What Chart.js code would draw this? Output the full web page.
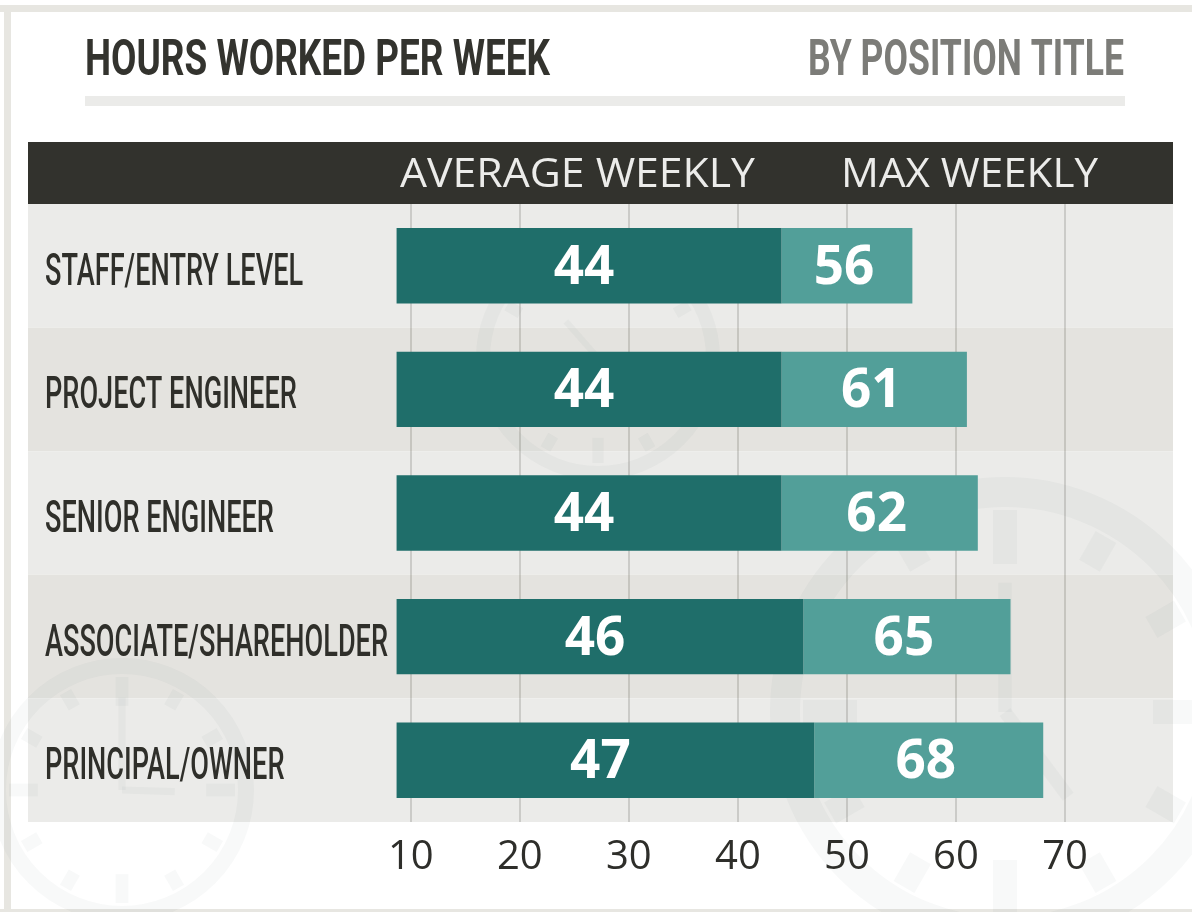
<!DOCTYPE html>
<html>
<head>
<meta charset="utf-8">
<title>Hours Worked Per Week</title>
<script src="https://cdn.jsdelivr.net/npm/chart.js@4.4.0/dist/chart.umd.min.js"></script>
<style>
  html, body { margin: 0; padding: 0; background: #fff; }
  #wrap { width: 1192px; height: 912px; position: relative; }
</style>
</head>
<body>
<div id="wrap"><canvas id="hoursChart" width="1192" height="912"></canvas></div>
<script>
// Chart data
const positions = ["STAFF/ENTRY LEVEL", "PROJECT ENGINEER", "SENIOR ENGINEER", "ASSOCIATE/SHAREHOLDER", "PRINCIPAL/OWNER"];
const averageWeekly = [44, 44, 44, 46, 47];
const maxWeekly = [56, 61, 62, 65, 68];
const hourTicks = [10, 20, 30, 40, 50, 60, 70];
const barBase = 8.7;
const seriesNames = ["AVERAGE WEEKLY", "MAX WEEKLY"];
const titleText = "HOURS WORKED PER WEEK";
const subtitleText = "BY POSITION TITLE";

// draw text squeezed/stretched horizontally to a given width
function fitText(ctx, text, x, y, width, font, color) {
  ctx.save();
  ctx.font = font;
  ctx.fillStyle = color;
  ctx.textAlign = "left";
  ctx.textBaseline = "alphabetic";
  const w = ctx.measureText(text).width;
  ctx.translate(x, y);
  ctx.scale(width / w, 1);
  ctx.fillText(text, 0, 0);
  ctx.restore();
}

function drawClock(ctx, cx, cy, r, w, hands) {
  ctx.save();
  ctx.strokeStyle = "rgba(70,80,95,0.035)";
  ctx.fillStyle = "rgba(70,80,95,0.035)";
  ctx.lineWidth = w;
  ctx.beginPath();
  ctx.arc(cx, cy, r - w / 2, 0, Math.PI * 2);
  ctx.stroke();
  // hour marks
  for (let i = 0; i < 12; i++) {
    ctx.save();
    ctx.translate(cx, cy);
    ctx.rotate(i * Math.PI / 6);
    const len = i % 3 === 0 ? w * 1.8 : w * 1.1;
    ctx.fillRect(-w * 0.4, -(r - w) + 3, w * 0.8, len);
    ctx.restore();
  }
  ctx.lineWidth = w * 0.45;
  hands.forEach(h => {
    ctx.beginPath();
    ctx.moveTo(cx, cy);
    ctx.lineTo(cx + Math.sin(h[0]) * r * h[1], cy - Math.cos(h[0]) * r * h[1]);
    ctx.stroke();
  });
  ctx.restore();
}

const decorPlugin = {
  id: "decor",
  beforeDraw(chart) {
    const ctx = chart.ctx;
    const area = chart.chartArea;
    const yScale = chart.scales.y;
    ctx.save();
    ctx.fillStyle = "#ffffff";
    ctx.fillRect(0, 0, chart.width, chart.height);

    // outer frame
    ctx.fillStyle = "#e7e6e1";
    ctx.fillRect(0, 5, chart.width, 7);
    ctx.fillRect(4, 5, 7, chart.height - 5);
    ctx.fillRect(0, 909, chart.width, 3);

    // title + rule
    fitText(ctx, titleText, 85, 75, 465, "bold 50px Roboto", "#33332e");
    fitText(ctx, subtitleText, 808, 75, 316, "bold 50px Roboto", "#7c7c78");
    ctx.fillStyle = "#ebebe9";
    ctx.fillRect(85, 96, 1040, 10);

    // header band
    ctx.fillStyle = "#32322d";
    ctx.fillRect(area.left, 142, area.right - area.left, area.top - 142);
    fitText(ctx, seriesNames[0], 400, 187, 355, "40px 'Open Sans'", "#ececea");
    fitText(ctx, seriesNames[1], 841, 187, 257, "40px 'Open Sans'", "#ececea");

    // alternating row bands
    const rowH = (area.bottom - area.top) / positions.length;
    positions.forEach((p, i) => {
      const yc = yScale.getPixelForValue(i);
      ctx.fillStyle = i % 2 === 0 ? "#ebebe9" : "#e4e3df";
      ctx.fillRect(area.left, yc - rowH / 2, area.right - area.left, rowH);
    });

    // faint clock watermarks
    drawClock(ctx, 598, 358, 122, 14, [[-0.72, 0.4]]);
    drawClock(ctx, 1005, 712, 235, 30, [[0, 0.55], [2.5, 0.45]]);
    drawClock(ctx, 122, 790, 132, 16, [[0, 0.7], [1.6, 0.4]]);

    // category labels (condensed)
    ctx.font = "500 44px Roboto";
    const longest = ctx.measureText("ASSOCIATE/SHAREHOLDER").width;
    const sx = 343 / longest;
    ctx.fillStyle = "#2f2f2a";
    ctx.textBaseline = "alphabetic";
    positions.forEach((p, i) => {
      const yc = yScale.getPixelForValue(i);
      ctx.save();
      ctx.translate(45, yc + 19);
      ctx.scale(sx, 1);
      ctx.fillText(p, 0, 0);
      ctx.restore();
    });
    ctx.restore();
  },
  afterDraw(chart) {
    const ctx = chart.ctx;
    ctx.save();
    ctx.font = "bold 53px 'Open Sans'";
    ctx.fillStyle = "#ffffff";
    ctx.textAlign = "center";
    ctx.textBaseline = "alphabetic";
    const series = [averageWeekly, maxWeekly];
    chart.data.datasets.forEach((ds, di) => {
      chart.getDatasetMeta(di).data.forEach((bar, i) => {
        const cx = (bar.x + bar.base) / 2 - (di === 0 ? 5 : 3);
        ctx.fillText(String(series[di][i]), cx, bar.y + 18);
      });
    });
    ctx.restore();
  }
};

const ctx = document.getElementById("hoursChart").getContext("2d");
const hoursChart = new Chart(ctx, {
  type: "bar",
  data: {
    labels: positions,
    datasets: [
      {
        label: seriesNames[0],
        data: averageWeekly.map(v => [barBase, v]),
        backgroundColor: "#1f6e6a",
        grouped: false,
        barPercentage: 0.61,
        categoryPercentage: 1,
        borderWidth: 0,
      },
      {
        label: seriesNames[1],
        data: maxWeekly.map((v, i) => [averageWeekly[i], v]),
        backgroundColor: "#529f99",
        grouped: false,
        barPercentage: 0.61,
        categoryPercentage: 1,
        borderWidth: 0,
      },
    ],
  },
  options: {
    indexAxis: "y",
    responsive: false,
    animation: false,
    layout: { padding: { left: 28, right: 19, top: 204, bottom: 18 } },
    plugins: {
      legend: { display: false },
      tooltip: { enabled: false },
    },
    scales: {
      x: {
        min: -25.1,
        max: 79.9,
        z: 1,
        afterBuildTicks: scale => {
          scale.ticks = hourTicks.map(v => ({ value: v }));
        },
        grid: { color: "rgba(60,60,50,0.18)", lineWidth: 2, drawTicks: false },
        border: { display: false },
        ticks: {
          color: "#2e2e2a",
          font: { family: "'Open Sans'", size: 40 },
          padding: 12,
          autoSkip: false,
          maxRotation: 0,
        },
      },
      y: { display: false },
    },
  },
  plugins: [decorPlugin],
});
</script>
</body>
</html>
